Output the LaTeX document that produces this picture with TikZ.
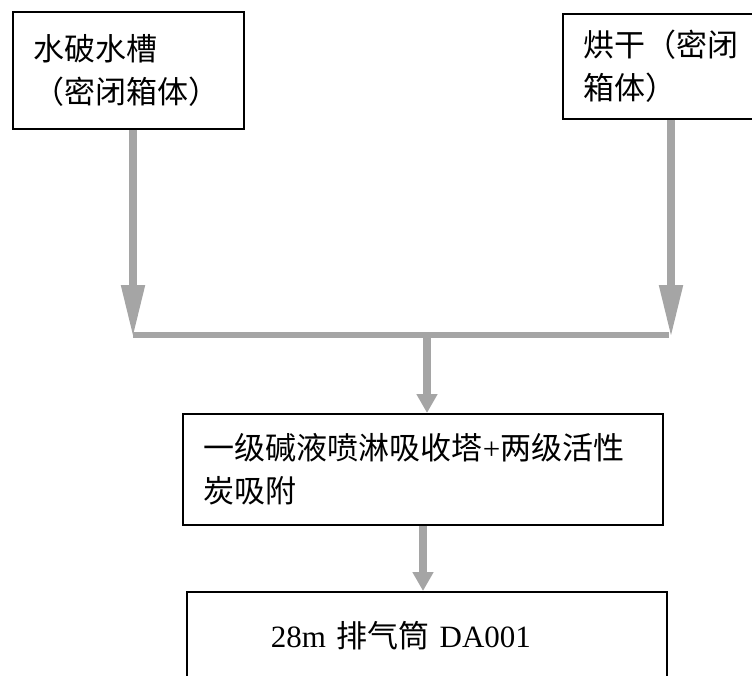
\documentclass[tikz,border=0pt]{standalone}
\usepackage{fontspec}
\setmainfont{Liberation Serif}
\newfontfamily\cjk{Noto Sans CJK SC}
\usetikzlibrary{arrows.meta}
\definecolor{arrgray}{HTML}{A5A5A5}
\begin{document}
\begin{tikzpicture}[x=1pt,y=-1pt,
  box/.style={draw=black,line width=1.8pt,anchor=north west,align=left,
    font=\fontsize{31}{43}\selectfont\cjk,inner xsep=21pt,inner ysep=0pt},
  bigarr/.style={draw=arrgray,line width=8pt,-{Triangle[length=53pt,width=22pt]}},
  smallarr/.style={draw=arrgray,line width=8pt,-{Triangle[length=19pt,width=20pt]}},
  joinline/.style={draw=arrgray,line width=6pt}]
\useasboundingbox (0,0) rectangle (752,675);
\node[box,minimum width=231pt,minimum height=117pt,text width=189pt] (b1) at (12,11)
  {水破水槽\\（密闭箱体）};
\node[box,minimum width=220pt,minimum height=105pt,text width=178pt] (b2) at (562,13)
  {烘干（密闭\\箱体）};
\node[box,minimum width=480pt,minimum height=111pt,text width=438pt] (b3) at (182,413)
  {一级碱液喷淋吸收塔{\rmfamily +}两级活性\\炭吸附};
\node[box,inner xsep=84pt,minimum width=480pt,minimum height=88pt,text width=312pt] (b4) at (186,591)
  {{\rmfamily 28m }排气筒{\rmfamily\ DA001}};
\coordinate (jl) at (133,335);
\coordinate (jr) at (669,335);
\coordinate (jm) at (427,335);
\coordinate (tl) at (133,338);
\coordinate (tr) at (671,338);
\coordinate (lowx) at (423,0);
\draw[bigarr] (tl |- b1.south) -- (tl);
\draw[bigarr] (tr |- b2.south) -- (tr);
\draw[joinline] (jl) -- (jr);
\draw[smallarr] ([yshift=3pt]jm) -- (jm |- b3.north);
\draw[smallarr] (lowx |- b3.south) -- (lowx |- b4.north);
\end{tikzpicture}
\end{document}
